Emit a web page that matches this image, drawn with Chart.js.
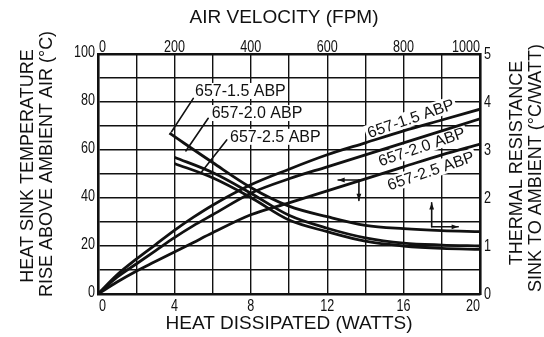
<!DOCTYPE html>
<html>
<head>
<meta charset="utf-8">
<script src="https://cdn.jsdelivr.net/npm/chart.js@4/dist/chart.umd.min.js"></script>
<style>
  html, body { margin: 0; padding: 0; background: #fff; }
  canvas { display: block; }
</style>
</head>
<body>
<canvas id="chart" width="544" height="337"></canvas>
<script>
// Heat sink temperature rise (°C) vs heat dissipated (W)
const watts    = [0, 1, 2, 3, 4, 5, 6, 8, 10, 12, 14, 16, 18, 20];
const rise15   = [0, 8, 14.5, 20.5, 26.5, 32, 37, 45.5, 52, 58, 63, 68, 72.5, 77];
const rise20   = [0, 7, 12.5, 18, 23.5, 28.5, 33, 42, 48, 53, 58, 63, 68, 73];
const rise25   = [0, 5, 9.5, 13.5, 17.5, 21.5, 25.5, 33, 38, 43, 48, 53, 58, 62.5];

// Thermal resistance sink to ambient (°C/W) vs air velocity (FPM)
const fpm15    = [187, 300, 400, 500, 600, 700, 800, 900, 1000];
const res15    = [3.35, 2.74, 2.22, 1.83, 1.61, 1.43, 1.36, 1.32, 1.30];
const fpm20    = [200, 300, 400, 500, 600, 700, 800, 900, 1000];
const res20    = [2.85, 2.53, 2.10, 1.64, 1.37, 1.17, 1.06, 1.02, 1.00];
const fpm25    = [200, 300, 400, 500, 600, 700, 800, 900, 1000];
const res25    = [2.72, 2.42, 2.01, 1.54, 1.30, 1.10, 1.00, 0.95, 0.93];

const seriesNames = ['657-1.5 ABP', '657-2.0 ABP', '657-2.5 ABP'];

// Tick labels
const wattTicks = [0, 4, 8, 12, 16, 20];
const fpmTicks  = [0, 200, 400, 600, 800, 1000];
const tempTicks = [0, 20, 40, 60, 80, 100];
const resTicks  = [0, 1, 2, 3, 4, 5];

const INK = '#111';
const TEXT_FAMILY = '"Liberation Sans", Arial, Helvetica, sans-serif';
const TICK_SQUEEZE = 0.74;   // tick numerals are set in a condensed face

const pts = (xs, ys) => xs.map((x, i) => ({ x, y: ys[i] }));

function curve(label, data, xAxisID, yAxisID) {
  return {
    label, data, xAxisID, yAxisID,
    borderColor: INK, borderWidth: 2.8,
    pointRadius: 0, fill: false,
    cubicInterpolationMode: 'monotone'
  };
}

// condensed numerals along each axis, placed through the axis scales
function drawTickLabels(chart) {
  const ctx = chart.ctx;
  const { x, x2, y, y2 } = chart.scales;
  const put = (text, px, py, align, baseline) => {
    ctx.save();
    ctx.translate(px, py);
    ctx.scale(TICK_SQUEEZE, 1);
    ctx.textAlign = align;
    ctx.textBaseline = baseline;
    ctx.fillText(text, 0, 0);
    ctx.restore();
  };
  ctx.save();
  ctx.fillStyle = INK;
  ctx.font = '17px ' + TEXT_FAMILY;
  wattTicks.forEach((v, i) => {
    const align = i === 0 ? 'left' : (i === wattTicks.length - 1 ? 'right' : 'center');
    put(String(v), x.getPixelForValue(v) + (i === 0 ? 1 : 0), y.bottom + 4, align, 'top');
  });
  fpmTicks.forEach((v, i) => {
    const align = i === 0 ? 'left' : (i === fpmTicks.length - 1 ? 'right' : 'center');
    put(String(v), x2.getPixelForValue(v) + (i === 0 ? 1 : 0), y.top - 2, align, 'alphabetic');
  });
  tempTicks.forEach(v => put(String(v), x.left - 3, y.getPixelForValue(v) - 2, 'right', 'middle'));
  resTicks.forEach(v => put(String(v), x.right + 4, y2.getPixelForValue(v), 'left', 'middle'));
  ctx.restore();
}

// Annotation decorations: series labels, leader lines, axis-direction arrows, axis titles
const decor = {
  id: 'decor',
  _labels(chart) {
    const { x, y } = chart.scales;
    return [
      { text: seriesNames[0], px: x.getPixelForValue(5.08), py: y.getPixelForValue(84.6), align: 'left', rot: 0 },
      { text: seriesNames[1], px: x.getPixelForValue(5.95), py: y.getPixelForValue(75.4), align: 'left', rot: 0 },
      { text: seriesNames[2], px: x.getPixelForValue(6.91), py: y.getPixelForValue(65.5), align: 'left', rot: 0 },
      { text: seriesNames[0], px: x.getPixelForValue(16.37), py: y.getPixelForValue(73.2), align: 'center', rot: -19 },
      { text: seriesNames[1], px: x.getPixelForValue(16.95), py: y.getPixelForValue(61.4), align: 'center', rot: -19 },
      { text: seriesNames[2], px: x.getPixelForValue(17.42), py: y.getPixelForValue(51.4), align: 'center', rot: -19 }
    ];
  },
  beforeDatasetsDraw(chart) {
    const ctx = chart.ctx;
    ctx.save();
    ctx.font = '16px ' + TEXT_FAMILY;
    ctx.fillStyle = '#fff';
    for (const l of this._labels(chart)) {
      const w = ctx.measureText(l.text).width;
      ctx.save();
      ctx.translate(l.px, l.py);
      ctx.rotate(l.rot * Math.PI / 180);
      const x0 = l.align === 'left' ? -2 : -w / 2 - 2;
      ctx.fillRect(x0, -8, w + 4, 16);
      ctx.restore();
    }
    ctx.restore();
  },
  afterDatasetsDraw(chart) {
    const ctx = chart.ctx;
    const { x, y } = chart.scales;
    const X = v => x.getPixelForValue(v), Y = v => y.getPixelForValue(v);

    ctx.save();
    ctx.strokeStyle = INK;
    ctx.fillStyle = INK;
    ctx.lineCap = 'round';

    const arrow = (x1, y1, x2, y2, head, lw) => {
      ctx.lineWidth = lw;
      ctx.beginPath(); ctx.moveTo(x1, y1); ctx.lineTo(x2, y2); ctx.stroke();
      if (!head) return;
      const a = Math.atan2(y2 - y1, x2 - x1);
      ctx.beginPath();
      ctx.moveTo(x2, y2);
      ctx.lineTo(x2 - head * Math.cos(a - 0.35), y2 - head * Math.sin(a - 0.35));
      ctx.lineTo(x2 - head * Math.cos(a + 0.35), y2 - head * Math.sin(a + 0.35));
      ctx.closePath(); ctx.fill();
    };

    // leader lines from the upper labels to each resistance curve
    arrow(X(4.99), Y(81.5), X(3.85), Y(67.6), 0, 1.6);
    arrow(X(5.77), Y(73.2), X(4.60), Y(59.6), 0, 1.6);
    arrow(X(6.74), Y(64.2), X(5.40), Y(50.6), 0, 1.6);

    // temperature curves read on the left axis
    arrow(X(13.8), Y(47.5), X(12.57), Y(47.5), 7, 1.6);
    arrow(X(13.66), Y(47.5), X(13.66), Y(39.0), 7, 1.6);
    // resistance curves read on the right axis
    arrow(X(17.47), Y(28.0), X(17.47), Y(38.0), 7, 1.6);
    arrow(X(17.47), Y(28.0), X(18.86), Y(28.0), 7, 1.6);

    // series labels
    ctx.font = '16px ' + TEXT_FAMILY;
    ctx.textBaseline = 'middle';
    for (const l of this._labels(chart)) {
      ctx.save();
      ctx.translate(l.px, l.py);
      ctx.rotate(l.rot * Math.PI / 180);
      ctx.textAlign = l.align;
      ctx.fillText(l.text, 0, 1);
      ctx.restore();
    }
    ctx.restore();
  },
  afterDraw(chart) {
    drawTickLabels(chart);
    const ctx = chart.ctx;
    ctx.save();
    ctx.fillStyle = INK;
    ctx.textAlign = 'center';
    ctx.textBaseline = 'middle';
    ctx.font = '19px ' + TEXT_FAMILY;
    ctx.fillText('AIR VELOCITY (FPM)', 284, 18);
    ctx.fillText('HEAT DISSIPATED (WATTS)', 289, 324);

    ctx.font = '18px ' + TEXT_FAMILY;
    const vertical = (text, cx, cy) => {
      ctx.save();
      ctx.translate(cx, cy);
      ctx.rotate(-Math.PI / 2);
      ctx.fillText(text, 0, 0);
      ctx.restore();
    };
    vertical('HEAT SINK TEMPERATURE', 28, 166);
    vertical('RISE ABOVE AMBIENT AIR (°C)', 47, 164);
    vertical('THERMAL RESISTANCE', 517, 163);
    vertical('SINK TO AMBIENT (°C/WATT)', 536, 168);
    ctx.restore();
  }
};

const fixSize = (prop, v) => scale => { scale[prop] = v; };

new Chart(document.getElementById('chart'), {
  type: 'line',
  data: {
    datasets: [
      curve(seriesNames[0], pts(watts, rise15), 'x', 'y'),
      curve(seriesNames[1], pts(watts, rise20), 'x', 'y'),
      curve(seriesNames[2], pts(watts, rise25), 'x', 'y'),
      curve(seriesNames[0], pts(fpm15, res15), 'x2', 'y2'),
      curve(seriesNames[1], pts(fpm20, res20), 'x2', 'y2'),
      curve(seriesNames[2], pts(fpm25, res25), 'x2', 'y2')
    ]
  },
  options: {
    responsive: false,
    animation: false,
    events: [],
    layout: { padding: 0 },
    plugins: { legend: { display: false }, tooltip: { enabled: false } },
    scales: {
      x: {
        type: 'linear', position: 'bottom', min: 0, max: 20,
        afterFit: fixSize('height', 43),
        grid: { color: INK, lineWidth: 1.4, drawTicks: false },
        border: { color: INK, width: 2.6 },
        ticks: { stepSize: 2, display: false }
      },
      x2: {
        type: 'linear', position: 'top', min: 0, max: 1000,
        afterFit: fixSize('height', 54),
        grid: { display: false, drawTicks: false },
        border: { color: INK, width: 2.6 },
        ticks: { stepSize: 200, display: false }
      },
      y: {
        type: 'linear', position: 'left', min: 0, max: 100,
        afterFit: fixSize('width', 98),
        grid: { color: INK, lineWidth: 1.4, drawTicks: false },
        border: { color: INK, width: 2.6 },
        ticks: { stepSize: 10, display: false }
      },
      y2: {
        type: 'linear', position: 'right', min: 0, max: 5,
        afterFit: fixSize('width', 64),
        grid: { display: false, drawTicks: false },
        border: { color: INK, width: 2.6 },
        ticks: { stepSize: 1, display: false }
      }
    }
  },
  plugins: [decor]
});
</script>
</body>
</html>
